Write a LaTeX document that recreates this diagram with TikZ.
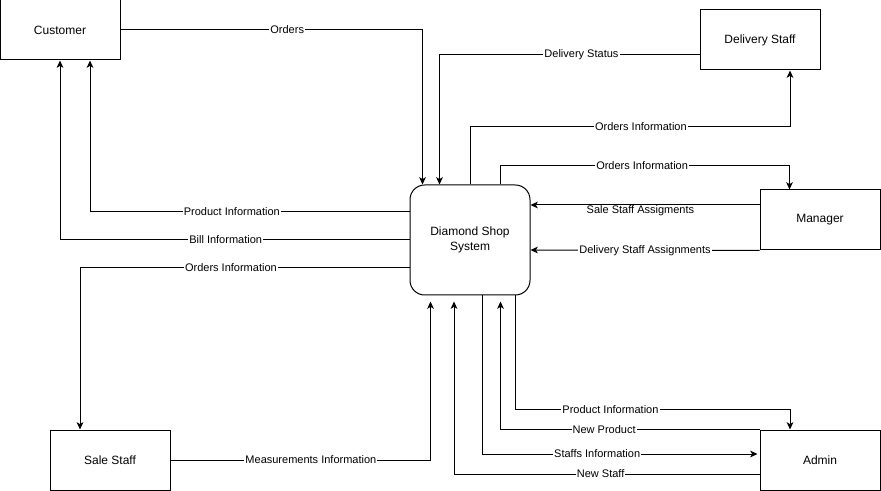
\documentclass[tikz,border=0pt]{standalone}
\usepackage{fontspec}
\setmainfont{Liberation Sans}
\usetikzlibrary{calc,arrows.meta}

\begin{document}
\begin{tikzpicture}[x=0.75pt, y=-0.75pt,
    entity/.style={draw, line width=0.75pt, minimum width=90pt, minimum height=45pt, inner sep=0pt, font=\fontsize{9}{11}\selectfont},
    process/.style={draw, line width=0.75pt, rounded corners=11pt, minimum width=90pt, minimum height=82.5pt, inner sep=0pt, align=center, font=\fontsize{9}{11}\selectfont},
    flow/.style={line width=0.75pt, -{Stealth[length=5.5pt, width=5pt, inset=1.5pt]}},
    lbl/.style={fill=white, inner sep=0.8pt, font=\fontsize{8.25}{10}\selectfont}]
    \useasboundingbox (0,0) rectangle (881,491);

    % Entita
    \node[entity] (cust) at (60,30) {Customer};
    \node[entity] (dstaff) at (760,40) {Delivery Staff};
    \node[entity] (mgr) at (820,220) {Manager};
    \node[entity] (sstaff) at (110,460) {Sale Staff};
    \node[entity] (adm) at (820,460) {Admin};

    % Processo
    \node[process] (sys) at (470,240) {Diamond Shop\\System};

    % Flussi in alto
    \draw[flow] (cust.east) -| node[lbl, pos=0.276]{Orders} ($(sys.north west)+(13,0)$);
    \draw[flow] ($(dstaff.west)+(0,15)$) -| node[lbl, pos=0.227]{Delivery Status} ($(sys.north west)+(30,0)$);
    \draw[flow] (sys.north) -- ++(0,-58) -| node[lbl, pos=0.267]{Orders Information} ($(dstaff.south)+(30,0)$);
    \draw[flow] ($(sys.north east)+(-30,0)$) -- ++(0,-19) -| node[lbl, pos=0.245]{Orders Information} ($(mgr.north west)+(30,0)$);

    % Flussi a destra
    \draw[flow] ($(mgr.west)+(0,-15)$) -- node[lbl, pos=0.52, yshift=-4.5pt]{Sale Staff Assigments} ($(sys.east)+(0,-35)$);
    \draw[flow] (mgr.south west) -- node[lbl, midway]{Delivery Staff Assignments} ($(sys.east)+(0,10)$);

    % Flussi a sinistra
    \draw[flow] ($(sys.west)+(0,-28)$) -| node[lbl, pos=0.278]{Product Information} ($(cust.south)+(30,0)$);
    \draw[flow] (sys.west) -| node[lbl, pos=0.263]{Bill Information} (cust.south);
    \draw[flow] ($(sys.west)+(0,28)$) -| node[lbl, pos=0.271]{Orders Information} ($(sstaff.north)+(-30,0)$);
    \draw[flow] (sstaff.east) -| node[lbl, pos=0.27]{Measurements Information} ($(sys.south west)+(21,6)$);

    % Flussi in basso
    \draw[flow] ($(sys.south east)+(-15,0)$) -- ++(0,114) -| node[lbl, pos=0.173]{Product Information} ($(adm.north)+(-30,0)$);
    \draw[flow] (adm.north west) -| node[lbl, pos=0.3]{New Product} ($(sys.south east)+(-30,6)$);
    \draw[flow] ($(sys.south)+(12,0)$) |- node[lbl, pos=0.709]{Staffs Information} ($(adm.west)+(-2,-6)$);
    \draw[flow] ($(adm.west)+(0,14)$) -| node[lbl, pos=0.26]{New Staff} ($(sys.south)+(-16,6)$);
\end{tikzpicture}
\end{document}
